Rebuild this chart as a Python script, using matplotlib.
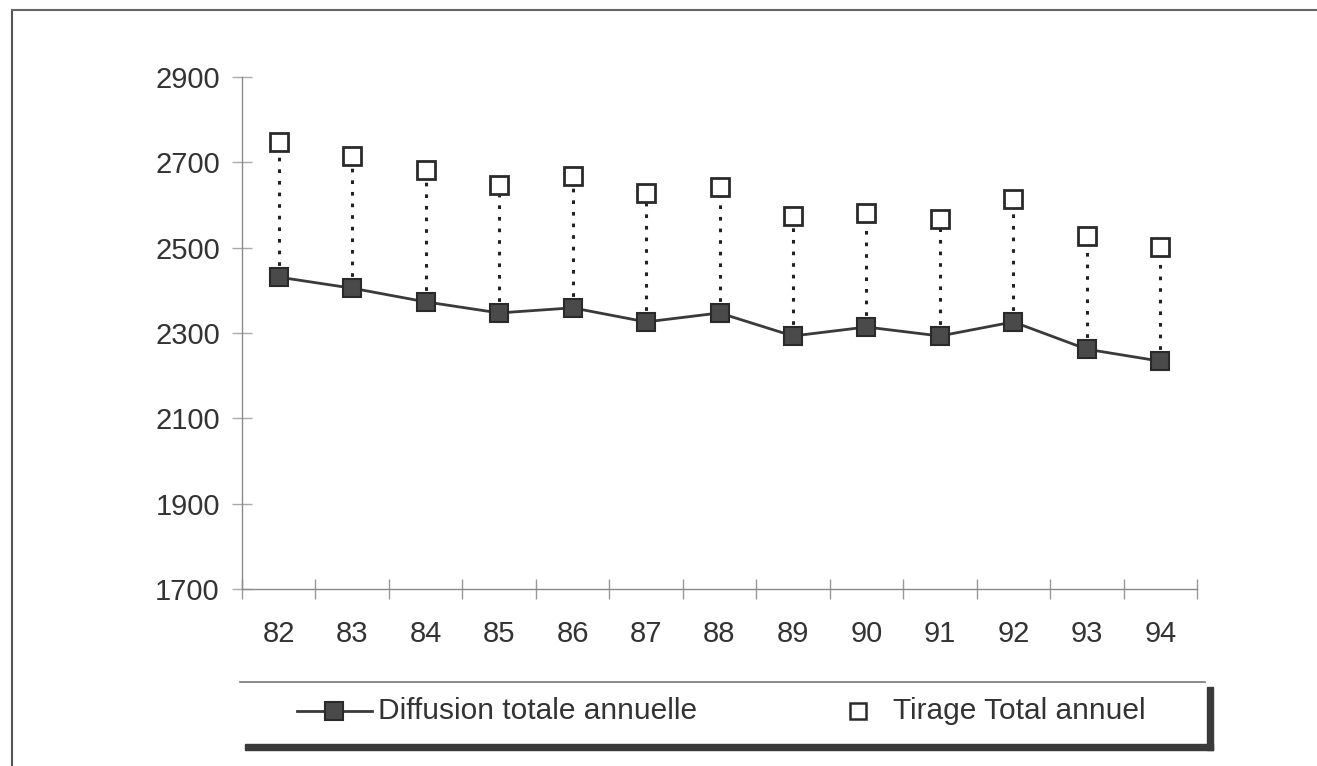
import numpy as np
import matplotlib.pyplot as plt
from matplotlib.lines import Line2D
from matplotlib.patches import Rectangle

plt.rcParams['font.family'] = ['Liberation Sans', 'DejaVu Sans']

# Données
annees = ["82", "83", "84", "85", "86", "87", "88", "89", "90", "91", "92", "93", "94"]
diffusion = [2431, 2405, 2373, 2347, 2359, 2326, 2347, 2293, 2314, 2293, 2326, 2262, 2234]
tirage = [2748, 2715, 2682, 2647, 2668, 2628, 2642, 2574, 2581, 2567, 2614, 2527, 2502]
yticks = [1700, 1900, 2100, 2300, 2500, 2700, 2900]

W, H = 1317, 766
fig = plt.figure(figsize=(W / 100, H / 100), dpi=100)
ax = fig.add_axes([242 / W, (H - 589) / H, (1197 - 242) / W, (589 - 77) / H])

x = np.arange(len(annees))

# lignes pointillées entre les deux séries
for xi, d, t in zip(x, diffusion, tirage):
    ax.plot([xi, xi], [d, t], color='#222222', lw=2.2, linestyle=(0, (1.2, 2.6)), zorder=1)

ax.plot(x, diffusion, color='#3a3a3a', lw=2, marker='s', ms=13.5,
        mfc='#4a4a4a', mec='#2a2a2a', mew=1.5, zorder=3)
ax.plot(x, tirage, linestyle='none', marker='s', ms=12.5,
        mfc='white', mec='#2a2a2a', mew=2, zorder=3)

ax.set_xlim(-0.5, len(annees) - 0.5)
ax.set_ylim(1700, 2900)

ax.set_yticks(yticks)
ax.set_yticklabels([str(v) for v in yticks])
ax.set_xticks(x)
ax.set_xticklabels(annees)
ax.set_xticks(np.arange(-0.5, len(annees), 1.0), minor=True)

for s in ['top', 'right']:
    ax.spines[s].set_visible(False)
for s in ['left', 'bottom']:
    ax.spines[s].set_color('#8a8a8a')
    ax.spines[s].set_linewidth(1.0)

ax.tick_params(axis='y', direction='inout', length=14, width=1, color='#aaaaaa',
               labelsize=21, labelcolor='#333333', pad=9)
ax.tick_params(axis='x', which='major', length=0, labelsize=21,
               labelcolor='#333333', pad=22)
ax.tick_params(axis='x', which='minor', direction='inout', length=14,
               width=1, color='#999999')

# cadre extérieur (gauche et haut)
fig.add_artist(Line2D([12 / W, 12 / W], [0, 1 - 10 / H], transform=fig.transFigure,
                      color='#555555', lw=1.5))
fig.add_artist(Line2D([12 / W, 1], [1 - 10 / H, 1 - 10 / H], transform=fig.transFigure,
                      color='#666666', lw=1.5))

# légende avec ombre
fig.add_artist(Line2D([240 / W, 1205 / W], [1 - 682 / H, 1 - 682 / H],
                      transform=fig.transFigure, color='#777777', lw=1.2))
fig.add_artist(Rectangle((245 / W, 1 - 750 / H), (1213 - 245) / W, 6 / H,
                         transform=fig.transFigure, color='#3a3a3a'))
fig.add_artist(Rectangle((1207 / W, 1 - 750 / H), 6 / W, (750 - 687) / H,
                         transform=fig.transFigure, color='#3a3a3a'))

ly = 1 - 711 / H
fig.add_artist(Line2D([297 / W, 372 / W], [ly, ly], transform=fig.transFigure,
                      color='#3a3a3a', lw=2))
fig.add_artist(Line2D([334 / W], [ly], transform=fig.transFigure, marker='s', ms=13,
                      mfc='#4a4a4a', mec='#2a2a2a', mew=1.5, linestyle='none'))
fig.text(378 / W, ly, "Diffusion totale annuelle", fontsize=21.5, color='#333333',
         va='center', ha='left')
fig.add_artist(Line2D([858 / W], [ly], transform=fig.transFigure, marker='s', ms=11,
                      mfc='white', mec='#2a2a2a', mew=1.8, linestyle='none'))
fig.text(893 / W, ly, "Tirage Total annuel", fontsize=21.5, color='#333333',
         va='center', ha='left')

fig.savefig("out.png", dpi=100)
